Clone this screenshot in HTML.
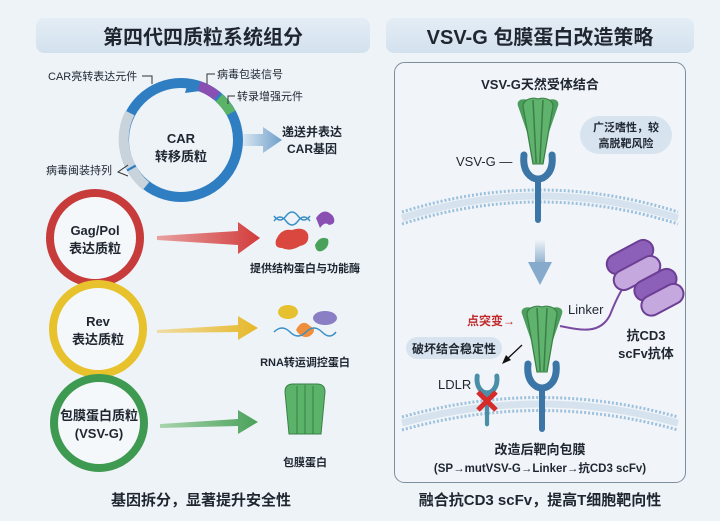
<!DOCTYPE html>
<html><head><meta charset="utf-8"><style>
html,body{margin:0;padding:0;background:#eef3f8;}
svg{display:block;font-family:"Liberation Sans","Noto Sans CJK SC",sans-serif;}
.b{font-weight:bold;fill:#1f2630;}
</style></head><body>
<svg width="720" height="521" viewBox="0 0 720 521" xmlns="http://www.w3.org/2000/svg">
<defs>
<linearGradient id="hd" x1="0" y1="0" x2="0" y2="1"><stop offset="0" stop-color="#e4edf5"/><stop offset="1" stop-color="#d3e1ee"/></linearGradient>
<linearGradient id="ab" x1="0" x2="1"><stop offset="0" stop-color="#d8e6f2"/><stop offset="1" stop-color="#6e9fc9"/></linearGradient>
<linearGradient id="ar" x1="0" x2="1"><stop offset="0" stop-color="#e8a0a0"/><stop offset="1" stop-color="#d23c3c"/></linearGradient>
<linearGradient id="ay" x1="0" x2="1"><stop offset="0" stop-color="#f0dca0"/><stop offset="1" stop-color="#e6b82a"/></linearGradient>
<linearGradient id="ag" x1="0" x2="1"><stop offset="0" stop-color="#a8d4ad"/><stop offset="1" stop-color="#4aa15a"/></linearGradient>
<linearGradient id="ad" x1="0" y1="0" x2="0" y2="1"><stop offset="0" stop-color="#eef3f8"/><stop offset="1" stop-color="#7fa5c8"/></linearGradient>
<g id="fan">
<path d="M-16,-26 C-18,-33 -10,-35 -6,-30 L0,32 Z" fill="#4c9e5c"/>
<path d="M16,-26 C18,-33 10,-35 6,-30 L0,32 Z" fill="#4c9e5c"/>
<path d="M-12,-26 C-12,-33 -4,-35 0,-33 C4,-35 12,-33 12,-26 L4,32 L-4,32 Z" fill="#5fb36d" stroke="#3a7f48" stroke-width="1"/>
<path d="M-4,-32 L-1.5,31 M4,-32 L1.5,31" stroke="#3a7f48" stroke-width="1.2" fill="none"/>
</g>
<g id="rec"><path d="M-14,-10 C-16,8 -6,14 0,14 C6,14 16,8 14,-10" fill="none" stroke="#3b76a6" stroke-width="7" stroke-linecap="round"/><rect x="-3" y="12" width="6" height="46" rx="3" fill="#3b76a6"/></g>
</defs>
<rect width="720" height="521" fill="#eef3f8"/>
<rect x="36" y="18" width="334" height="35" rx="8" fill="url(#hd)"/>
<text x="203" y="44" text-anchor="middle" class="b" font-size="20">第四代四质粒系统组分</text>
<rect x="386" y="18" width="308" height="35" rx="8" fill="url(#hd)"/>
<text x="540" y="44" text-anchor="middle" class="b" font-size="20">VSV-G 包膜蛋白改造策略</text>
<g transform="translate(3,9)">
<circle cx="178" cy="131" r="57" fill="none" stroke="#2f7ec2" stroke-width="10"/>
<path d="M128,158 A57,57 0 0 1 127,104" fill="none" stroke="#c9d3dc" stroke-width="10"/>
<path d="M143,177 A57,57 0 0 1 129,160" fill="none" stroke="#c9d3dc" stroke-width="10"/>
<path d="M196,77 A57,57 0 0 1 214,87" fill="none" stroke="#8a4fb3" stroke-width="10"/>
<path d="M216,89 A57,57 0 0 1 228,104" fill="none" stroke="#5bb36a" stroke-width="10"/>
<polygon points="186,70 197,82 182,84" fill="#2f7ec2"/>
<text x="178" y="134" text-anchor="middle" class="b" font-size="13">CAR</text>
<text x="178" y="152" text-anchor="middle" class="b" font-size="13">转移质粒</text>
</g>
<text x="48" y="80" font-size="11" fill="#1f2630">CAR亮转表达元件</text>
<path d="M142,76 L152,76 L152,84" fill="none" stroke="#333"/>
<text x="217" y="78" font-size="11" fill="#1f2630">病毒包装信号</text>
<path d="M215,74 L207,74 L207,84" fill="none" stroke="#333"/>
<text x="237" y="100" font-size="11" fill="#1f2630">转录增强元件</text>
<path d="M235,96 L228,96 L228,104" fill="none" stroke="#333"/>
<text x="46" y="174" font-size="11" fill="#1f2630">病毒闽装持列</text>
<path d="M128,165 L118,172 L128,176" fill="none" stroke="#333"/>
<polygon points="243,134 263,134 263,127 282,140 263,153 263,146 243,146" fill="url(#ab)"/>
<text x="312" y="136" text-anchor="middle" class="b" font-size="12">递送并表达</text>
<text x="312" y="153" text-anchor="middle" class="b" font-size="12">CAR基因</text>
<circle cx="95" cy="238" r="45" fill="#f5f8fb" stroke="#c73b3b" stroke-width="8"/>
<text x="95" y="235" text-anchor="middle" class="b" font-size="13">Gag/Pol</text>
<text x="95" y="253" text-anchor="middle" class="b" font-size="13">表达质粒</text>
<circle cx="98" cy="329" r="45" fill="#f5f8fb" stroke="#e8c22c" stroke-width="8"/>
<text x="98" y="326" text-anchor="middle" class="b" font-size="13">Rev</text>
<text x="98" y="344" text-anchor="middle" class="b" font-size="13">表达质粒</text>
<circle cx="99" cy="423" r="45" fill="#f5f8fb" stroke="#3e9a50" stroke-width="8"/>
<text x="99" y="420" text-anchor="middle" class="b" font-size="13">包膜蛋白质粒</text>
<text x="99" y="438" text-anchor="middle" class="b" font-size="13">(VSV-G)</text>
<polygon points="157,236 238,231 238,222 260,238 238,254 238,245 157,240" fill="url(#ar)"/>
<polygon points="157,330 238,325 238,316 258,328 238,340 238,332 157,333" fill="url(#ay)"/>
<polygon points="160,424 238,419 238,410 258,422 238,434 238,426 160,428" fill="url(#ag)"/>
<path d="M274,221 q6,-8 12,0 t12,0 t12,0 M274,216 q6,8 12,0 t12,0 t12,0" fill="none" stroke="#3a8fc4" stroke-width="1.5"/>
<path d="M316,218 q8,-12 17,-2 q4,8 -4,9 q-4,-4 -9,3 z" fill="#8a4fb3"/>
<path d="M276,240 q5,-12 16,-10 q12,-4 16,4 q2,10 -8,12 q-10,6 -18,2 q-8,0 -6,-8z" fill="#d9473e"/>
<path d="M315,245 q5,-10 13,-6 q2,8 -6,12 q-6,2 -7,-6z" fill="#4aa15a"/>
<text x="305" y="272" text-anchor="middle" class="b" font-size="11">提供结构蛋白与功能酶</text>
<ellipse cx="288" cy="312" rx="10" ry="7" fill="#e6c12f"/>
<ellipse cx="325" cy="318" rx="12" ry="7" fill="#8a7ec4"/>
<path d="M296,330 q6,-12 14,-4 q8,4 0,10 q-8,4 -14,-6z" fill="#ef8f3c"/>
<path d="M274,332 q8,-8 16,0 t16,0 t16,0 t14,0" fill="none" stroke="#3a8fc4" stroke-width="1.5"/>
<text x="305" y="366" text-anchor="middle" class="b" font-size="11">RNA转运调控蛋白</text>
<g transform="translate(305,400)"><path d="M-20,-8 q0,-8 8,-8 h24 q8,0 8,8 l-4,42 h-32 z" fill="#5bb36a" stroke="#3a7f48"/><path d="M-8,-14 v48 M0,-15 v49 M8,-14 v48" stroke="#3a7f48" fill="none"/></g>
<text x="305" y="466" text-anchor="middle" class="b" font-size="11">包膜蛋白</text>
<text x="201" y="505" text-anchor="middle" class="b" font-size="15">基因拆分，显著提升安全性</text>
<rect x="394.5" y="62.5" width="291" height="420" rx="10" fill="#f1f5f9" stroke="#7f8e9c" stroke-width="1"/>
<text x="540" y="89" text-anchor="middle" class="b" font-size="13">VSV-G天然受体结合</text>
<path d="M402,212 Q540,168 678,212" fill="none" stroke="#9dc0dd" stroke-width="3" stroke-dasharray="2 2"/>
<path d="M402,224 Q540,180 678,224" fill="none" stroke="#9dc0dd" stroke-width="3" stroke-dasharray="2 2"/>
<path d="M402,218 Q540,174 678,218" fill="none" stroke="#d6e3ee" stroke-width="7"/>
<g transform="translate(538,132) scale(1.25,1)"><use href="#fan"/></g>
<g transform="translate(538,165)"><use href="#rec"/></g>
<text x="456" y="166" font-size="13" fill="#1f2630">VSV-G —</text>
<rect x="580" y="116" width="92" height="38" rx="19" fill="#d7e4ef"/>
<text x="626" y="131" text-anchor="middle" class="b" font-size="11">广泛嗜性，较</text>
<text x="626" y="147" text-anchor="middle" class="b" font-size="11">高脱靶风险</text>
<rect x="535" y="240" width="10" height="28" fill="url(#ad)"/>
<polygon points="528,262 552,262 540,285" fill="#86aacb"/>
<path d="M402,417 Q540,378 678,417" fill="none" stroke="#9dc0dd" stroke-width="3" stroke-dasharray="2 2"/>
<path d="M402,430 Q540,391 678,430" fill="none" stroke="#9dc0dd" stroke-width="3" stroke-dasharray="2 2"/>
<path d="M402,423 Q540,385 678,423" fill="none" stroke="#d6e3ee" stroke-width="7"/>
<g transform="translate(542,340) scale(1.25,1)"><use href="#fan"/></g>
<g transform="translate(542,374)"><use href="#rec"/></g>
<g transform="translate(487,383) scale(0.7)"><path d="M-14,-10 C-16,8 -6,14 0,14 C6,14 16,8 14,-10" fill="none" stroke="#4a8fa8" stroke-width="7" stroke-linecap="round"/><rect x="-3" y="12" width="6" height="50" rx="3" fill="#4a8fa8"/></g>
<path d="M478,392 l18,18 M496,392 l-18,18" stroke="#d62b2b" stroke-width="5"/>
<text x="438" y="389" font-size="13" fill="#1f2630">LDLR</text>
<text x="467" y="325" font-size="12" font-weight="bold" fill="#c0282a">点突变→</text>
<rect x="406" y="337" width="96" height="22" rx="11" fill="#d7e4ef"/>
<text x="454" y="353" text-anchor="middle" class="b" font-size="12">破坏结合稳定性</text>
<path d="M522,345 L505,361" stroke="#111" stroke-width="1.3"/><polygon points="502,364 506,355 511,360" fill="#111"/>
<path d="M560,326 C580,330 600,335 610,315 C620,290 625,280 640,280" fill="none" stroke="#7a4aa0" stroke-width="2"/>
<text x="568" y="314" font-size="13" fill="#1f2630">Linker</text>
<g fill="#c5a8de" stroke="#6c3e94" stroke-width="2">
<rect x="605" y="247" width="50" height="20" rx="10" transform="rotate(-28 630 257)" fill="#8c5fb8"/>
<rect x="612" y="263" width="50" height="20" rx="10" transform="rotate(-28 637 273)"/>
<rect x="633" y="275" width="45" height="20" rx="10" transform="rotate(-28 655 285)" fill="#8c5fb8"/>
<rect x="640" y="290" width="45" height="20" rx="10" transform="rotate(-28 662 300)"/>
</g>
<text x="646" y="340" text-anchor="middle" class="b" font-size="13">抗CD3</text>
<text x="646" y="358" text-anchor="middle" class="b" font-size="13">scFv抗体</text>
<text x="540" y="454" text-anchor="middle" class="b" font-size="13">改造后靶向包膜</text>
<text x="540" y="472" text-anchor="middle" class="b" font-size="11.5">(SP→mutVSV-G→Linker→抗CD3 scFv)</text>
<text x="540" y="505" text-anchor="middle" class="b" font-size="15">融合抗CD3 scFv，提高T细胞靶向性</text>
</svg>
</body></html>
